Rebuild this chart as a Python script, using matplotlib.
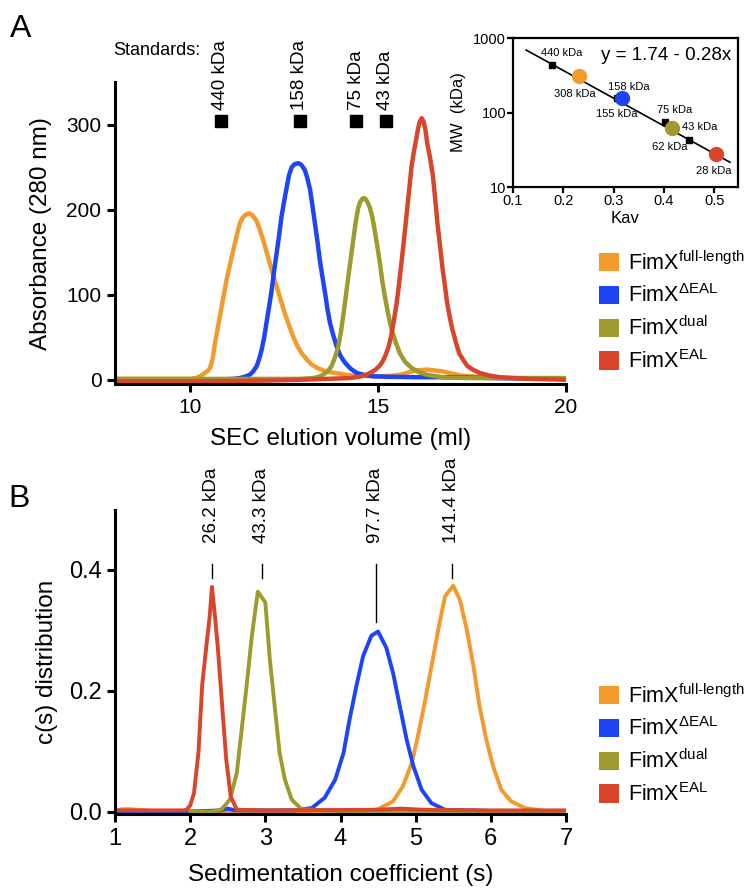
import matplotlib
matplotlib.use('Agg')
import matplotlib.pyplot as plt
from matplotlib.patches import Patch

plt.rcParams['font.family'] = ['Liberation Sans', 'DejaVu Sans']
plt.rcParams['mathtext.fontset'] = 'custom'
plt.rcParams['mathtext.rm'] = 'Liberation Sans'
plt.rcParams['mathtext.it'] = 'Liberation Sans:italic'
plt.rcParams['mathtext.bf'] = 'Liberation Sans:bold'

# colours of the four constructs
colors = ['#F39A2D', '#1D44F5', '#9D9B2E', '#D8452B']
labels = [r'FimX$^{\text{full-length}}$', r'FimX$^{\text{ΔEAL}}$',
          r'FimX$^{\text{dual}}$', r'FimX$^{\text{EAL}}$']

# --- panel A: SEC traces ---
sec_orange_x = [8.0, 9.0, 10.0, 10.15, 10.26, 10.39, 10.47, 10.53, 10.60, 10.66, 10.79, 10.88,
                10.97, 11.06, 11.15, 11.24, 11.32, 11.40, 11.47, 11.57, 11.65, 11.72, 11.77,
                11.85, 11.94, 12.03, 12.12, 12.21, 12.30, 12.41, 12.52, 12.63, 12.74, 12.85,
                12.97, 13.10, 13.23, 13.38, 13.54, 13.70, 13.90, 14.10, 14.33, 14.7, 15.0,
                15.3, 15.6, 15.8, 16.0, 16.3, 16.7, 17.0, 17.2, 17.5, 17.8, 18.5, 20.0]
sec_orange_y = [1, 1, 1, 2, 4, 8, 10.5, 14, 25, 43, 74.5, 96, 118, 136, 153, 170, 184, 191,
                194, 196, 194, 190, 187, 177, 165, 151, 137, 123, 110, 94, 78, 64, 51, 40,
                31, 24, 18, 14, 11, 9, 7.8, 6.2, 5, 4.5, 4, 4.5, 6, 8.5, 11, 12, 10, 7, 5,
                4, 3, 2, 1]

sec_blue_x = [8.0, 10.0, 11.15, 11.32, 11.45, 11.59, 11.68, 11.77, 11.84, 11.90, 11.97,
              12.03, 12.10, 12.17, 12.23, 12.30, 12.37, 12.43, 12.50, 12.57, 12.63, 12.70,
              12.78, 12.88, 12.96, 13.05, 13.12, 13.19, 13.25, 13.32, 13.39, 13.45, 13.52,
              13.59, 13.65, 13.72, 13.81, 13.90, 14.00, 14.12, 14.27, 14.43, 14.65, 14.87,
              15.3, 16.0, 17.0, 18.0, 20.0]
sec_blue_y = [-2, -1, 1, 2, 3.5, 6, 10, 16, 25, 35, 50, 67, 86, 106, 127, 149, 171, 192, 210,
              227, 241, 250, 254, 255, 253, 247, 237, 224, 206, 184, 162, 141, 121, 102, 84,
              67, 52, 39, 28, 20, 13, 8, 5.5, 4, 3.5, 3, 3, 2, 1]

sec_olive_x = [8.0, 12.0, 12.9, 13.27, 13.42, 13.54, 13.66, 13.76, 13.85, 13.94, 14.01, 14.07,
               14.14, 14.21, 14.28, 14.34, 14.41, 14.47, 14.52, 14.58, 14.63, 14.68, 14.74,
               14.78, 14.85, 14.91, 14.98, 15.05, 15.11, 15.18, 15.27, 15.36, 15.47, 15.58,
               15.72, 15.89, 16.08, 16.29, 16.55, 16.82, 17.5, 18.5, 20.0]
sec_olive_y = [1, 1, 1, 2, 3.5, 6, 10, 16, 26, 39, 56, 74.5, 98, 122, 145, 165, 187, 202, 209,
               213, 214, 212, 207, 203, 191, 176, 157, 137, 117, 98, 77, 59, 44, 31, 21, 14,
               9, 6, 4, 2.5, 2, 2, 2]

sec_red_x = [8.0, 10.0, 12.0, 13.0, 14.25, 14.50, 14.69, 14.85, 14.96, 15.05, 15.12, 15.20,
             15.28, 15.35, 15.41, 15.48, 15.54, 15.60, 15.66, 15.72, 15.78, 15.84, 15.89,
             15.95, 16.01, 16.06, 16.11, 16.16, 16.21, 16.26, 16.31, 16.38, 16.45, 16.52,
             16.58, 16.65, 16.71, 16.78, 16.84, 16.91, 16.98, 17.07, 17.16, 17.27, 17.38,
             17.52, 17.70, 17.95, 18.24, 18.6, 19.04, 20.0]
sec_red_y = [-2, -2, -1, 0, 2, 3.5, 6, 9.5, 13, 17, 21.5, 29, 39, 52, 67, 86, 106, 129, 153,
             178, 204, 229, 251, 268, 282, 295, 304, 308, 304, 294, 278, 262, 243, 213, 184,
             157, 133, 110, 90, 73, 59, 44, 31, 23, 16, 12, 8, 5, 3, 2, 1, 0]

std_names = ['440 kDa', '158 kDa', '75 kDa', '43 kDa']
std_volume = [10.82, 12.92, 14.42, 15.21]
std_level = 305

# --- inset: calibration ---
std_kav = [0.177, 0.307, 0.402, 0.45]
std_mw = [440, 158, 75, 43]
sample_kav = [0.231, 0.317, 0.416, 0.503]
sample_mw = [308, 155, 62, 28]
sample_names = ['308 kDa', '155 kDa', '62 kDa', '28 kDa']
fit_kav = [0.126, 0.531]
fit_mw = [690, 21.5]

# --- panel B: c(s) distributions ---
cs_orange_x = [1.0, 1.1, 1.2, 1.3, 1.5, 2.0, 3.0, 4.0, 4.28, 4.50, 4.70, 4.83, 4.95, 5.03,
               5.12, 5.21, 5.30, 5.39, 5.50, 5.59, 5.68, 5.77, 5.85, 5.94, 6.03, 6.14, 6.27,
               6.45, 6.72, 7.0]
cs_orange_y = [0.002, 0.004, 0.004, 0.003, 0.001, 0.0, 0.0, 0.0, 0.0, 0.004, 0.017, 0.042,
               0.081, 0.125, 0.180, 0.240, 0.301, 0.356, 0.374, 0.350, 0.301, 0.240, 0.174,
               0.119, 0.075, 0.036, 0.017, 0.006, 0.001, 0.001]

cs_blue_x = [1.0, 2.0, 2.4, 2.5, 2.6, 3.0, 3.39, 3.62, 3.79, 3.93, 4.04, 4.12, 4.21, 4.30,
             4.41, 4.50, 4.61, 4.70, 4.79, 4.88, 4.97, 5.08, 5.21, 5.39, 6.0, 7.0]
cs_blue_y = [0.0, 0.0, 0.002, 0.005, 0.002, 0.002, 0.002, 0.006, 0.023, 0.053, 0.097, 0.152,
             0.207, 0.257, 0.291, 0.298, 0.271, 0.229, 0.174, 0.119, 0.075, 0.036, 0.014,
             0.003, 0.001, 0.001]

cs_olive_x = [2.0, 2.29, 2.42, 2.53, 2.62, 2.68, 2.75, 2.82, 2.90, 3.00, 3.06, 3.13, 3.19,
              3.26, 3.35, 3.48, 4.0, 5.0, 7.0]
cs_olive_y = [0.0, 0.0, 0.004, 0.02, 0.064, 0.13, 0.207, 0.29, 0.364, 0.346, 0.252, 0.168,
              0.097, 0.053, 0.02, 0.004, 0.001, 0.001, 0.001]

cs_red_x = [1.0, 1.9, 1.95, 2.0, 2.05, 2.11, 2.16, 2.22, 2.26, 2.29, 2.33, 2.37, 2.43, 2.48,
            2.54, 2.62, 3.0, 4.5, 4.8, 5.1, 6.0, 7.0]
cs_red_y = [0.002, 0.002, 0.003, 0.01, 0.03, 0.097, 0.21, 0.279, 0.323, 0.372, 0.323, 0.268,
            0.168, 0.086, 0.025, 0.003, 0.002, 0.003, 0.005, 0.003, 0.002, 0.002]

mass_names = ['26.2 kDa', '43.3 kDa', '97.7 kDa', '141.4 kDa']
mass_s = [2.29, 2.95, 4.47, 5.48]
mass_line_low = [0.387, 0.387, 0.314, 0.387]
mass_line_high = 0.41

W, H = 746, 896
fig = plt.figure(figsize=(W / 100, H / 100), dpi=100)


def style_axis(ax, size):
    for s in ['top', 'right']:
        ax.spines[s].set_visible(False)
    for s in ['left', 'bottom']:
        ax.spines[s].set_linewidth(2.2)
    ax.tick_params(direction='out', length=5.8, width=2.2, labelsize=size, pad=4)


# panel A
axA = fig.add_axes([115 / W, 1 - 384 / H, 451 / W, (384 - 82.5) / H])
for xs, ys, c in zip([sec_orange_x, sec_blue_x, sec_olive_x, sec_red_x],
                     [sec_orange_y, sec_blue_y, sec_olive_y, sec_red_y], colors):
    axA.plot(xs, ys, color=c, lw=3.2, solid_joinstyle='round')
axA.plot(std_volume, [std_level] * 4, 's', color='black', ms=8.5, clip_on=False)
for x, t in zip(std_volume, std_names):
    axA.text(x, 318, t, rotation=90, ha='center', va='bottom', fontsize=13.5)
axA.set_xlim(8, 20)
axA.set_ylim(-5, 350)
axA.set_xticks([10, 15, 20])
axA.set_yticks([0, 100, 200, 300])
style_axis(axA, 15)
axA.set_xlabel('SEC elution volume (ml)', fontsize=17.5, labelpad=8)
axA.set_ylabel('Absorbance (280 nm)', fontsize=17.5, labelpad=10)
fig.text(200 / W, 1 - 55 / H, 'Standards:', ha='right', va='baseline', fontsize=13)
fig.text(10 / W, 1 - 37 / H, 'A', ha='left', va='baseline', fontsize=23)

# inset calibration
axI = fig.add_axes([513 / W, 1 - 187 / H, 225 / W, 149 / H])
axI.set_yscale('log')
axI.plot(fit_kav, fit_mw, color='black', lw=1.2)
axI.plot(std_kav, std_mw, 's', color='black', ms=4.5)
for k, m, c in zip(sample_kav, sample_mw, colors):
    axI.plot(k, m, 'o', color=c, ms=10)
std_off = [(10, 12), (12, 11), (10, 12), (11, 13)]
for k, m, t, o in zip(std_kav, std_mw, std_names, std_off):
    axI.annotate(t, (k, m), xytext=o, textcoords='offset pixels', ha='center', va='center',
                 fontsize=8)
sample_off = [(-4, -18), (-5, -16), (-2, -19), (-2, -17)]
for k, m, t, o in zip(sample_kav, sample_mw, sample_names, sample_off):
    axI.annotate(t, (k, m), xytext=o, textcoords='offset pixels', ha='center', va='center',
                 fontsize=8)
axI.text(0.97, 0.88, 'y = 1.74 - 0.28x', transform=axI.transAxes, ha='right', va='center',
         fontsize=13.5)
axI.set_xlim(0.1, 0.547)
axI.set_ylim(10, 1000)
axI.set_xticks([0.1, 0.2, 0.3, 0.4, 0.5])
axI.set_yticks([10, 100, 1000])
axI.set_yticklabels(['10', '100', '1000'])
axI.minorticks_off()
for s in axI.spines.values():
    s.set_linewidth(1.6)
axI.tick_params(direction='out', length=4, width=1.6, labelsize=10.5, pad=1)
axI.set_xlabel('Kav', fontsize=12, labelpad=2)
axI.set_ylabel('MW  (kDa)', fontsize=12, labelpad=5)

# legend A
handles = [Patch(facecolor=c, edgecolor='none') for c in colors]
fig.legend(handles, labels, loc='upper left', bbox_to_anchor=(599 / W, 1 - 251 / H),
           frameon=False, fontsize=15.5, handlelength=0.95, handleheight=0.95,
           handletextpad=0.4, labelspacing=0.45, borderpad=0, borderaxespad=0)

# panel B
axB = fig.add_axes([115 / W, 1 - 814 / H, 451 / W, 304.5 / H])
for xs, ys, c in zip([cs_orange_x, cs_blue_x, cs_olive_x, cs_red_x],
                     [cs_orange_y, cs_blue_y, cs_olive_y, cs_red_y], colors):
    axB.plot(xs, ys, color=c, lw=2.8)
for x, lo, t in zip(mass_s, mass_line_low, mass_names):
    axB.plot([x, x], [lo, mass_line_high], color='black', lw=1)
    axB.text(x, 0.445, t, rotation=90, ha='center', va='bottom', fontsize=13.5)
axB.set_xlim(1, 7)
axB.set_ylim(-0.004, 0.5)
axB.set_xticks([1, 2, 3, 4, 5, 6, 7])
axB.set_yticks([0.0, 0.2, 0.4])
axB.set_yticklabels(['0.0', '0.2', '0.4'])
style_axis(axB, 17)
axB.set_xlabel('Sedimentation coefficient (s)', fontsize=17.5, labelpad=10)
axB.set_ylabel('c(s) distribution', fontsize=17.5, labelpad=8)
fig.text(8 / W, 1 - 507 / H, 'B', ha='left', va='baseline', fontsize=23)

fig.legend(handles, labels, loc='upper left', bbox_to_anchor=(599 / W, 1 - 684 / H),
           frameon=False, fontsize=15.5, handlelength=0.95, handleheight=0.95,
           handletextpad=0.4, labelspacing=0.45, borderpad=0, borderaxespad=0)

fig.savefig('out.png', dpi=100)
